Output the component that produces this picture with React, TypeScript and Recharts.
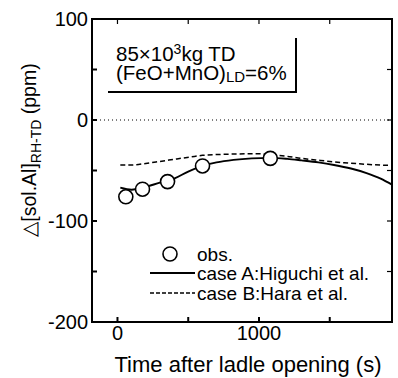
import React from 'react';
import {
  ComposedChart,
  Line,
  Scatter,
  XAxis,
  YAxis,
  ReferenceLine,
  ReferenceArea,
} from 'recharts';

// observed values (time s, delta sol.Al ppm)
const obsTime = [59, 177, 354, 601, 1080];
const obsAl = [-76, -68.5, -61, -45.5, -38];

// case A: Higuchi et al.
const caseATime = [20, 100, 180, 300, 400, 500, 600, 700, 820, 950, 1080, 1200, 1300, 1420, 1530, 1650, 1760, 1860, 1940];
const caseAAl = [-67, -69, -67, -62, -58, -51, -45.5, -42, -39.5, -38, -37.5, -38.5, -40, -42, -44.5, -48, -52.5, -58, -64];

// case B: Hara et al.
const caseBTime = [20, 100, 200, 300, 420, 520, 600, 700, 800, 900, 1000, 1100, 1200, 1300, 1400, 1500, 1600, 1700, 1800, 1940];
const caseBAl = [-44.5, -44.5, -43, -41, -38.5, -36.5, -35, -34.2, -33.8, -33.5, -33.5, -34.5, -36, -38, -39.5, -41, -42.3, -43.3, -44.2, -45];

const xTicks = [0, 500, 1000, 1500];
const xLabels = ['0', '', '1000', ''];
const yTicks = [-200, -150, -100, -50, 0, 50, 100];
const yLabels = ['-200', '', '-100', '', '0', '', '100'];

const obsData = obsTime.map((t, i) => ({ t, v: obsAl[i] }));
const caseAData = caseATime.map((t, i) => ({ t, v: caseAAl[i] }));
const caseBData = caseBTime.map((t, i) => ({ t, v: caseBAl[i] }));

const FONT = '"Liberation Sans", Arial, Helvetica, sans-serif';
const tickStyle = { fill: '#000', fontSize: 20, fontFamily: FONT };
const X_MIN = -180;
const X_MAX = 1940;
const Y_MIN = -200;
const Y_MAX = 100;

// chart box and plot rectangle
const W = 398;
const H = 378;
const MARGIN = { top: 19, right: 6, bottom: 26, left: 32 };
const Y_AXIS_W = 60;
const X_AXIS_H = 30;
const PL = MARGIN.left + Y_AXIS_W;
const PR = W - MARGIN.right;
const PT = MARGIN.top;
const PB = H - MARGIN.bottom - X_AXIS_H;

const xFmt = (v: number) => xLabels[xTicks.indexOf(v)] ?? '';
const yFmt = (v: number) => yLabels[yTicks.indexOf(v)] ?? '';

// inward ticks on the top and right sides of the box
const TopRightTicks = () => {
  const px = (t: number) => PL + ((t - X_MIN) / (X_MAX - X_MIN)) * (PR - PL);
  const py = (v: number) => PT + ((Y_MAX - v) / (Y_MAX - Y_MIN)) * (PB - PT);
  return (
    <svg width={W} height={H} style={{ position: 'absolute', left: 0, top: 0, pointerEvents: 'none' }}>
      {xTicks.map((t) => (
        <line key={`x${t}`} x1={px(t)} x2={px(t)} y1={PT} y2={PT + 5} stroke="#000" strokeWidth={1.2} />
      ))}
      {yTicks.map((v) => (
        <line key={`y${v}`} x1={PR} x2={PR - 5} y1={py(v)} y2={py(v)} stroke="#000" strokeWidth={1.2} />
      ))}
    </svg>
  );
};

// legend drawn as an overlay so it takes no room from the plot
const LegendBox = () => (
  <svg width={245} height={64} style={{ position: 'absolute', left: 150, top: 244 }}>
    <g fontFamily={FONT} fontSize={19} fill="#000">
      <circle cx={20} cy={10} r={7} fill="#fff" stroke="#000" strokeWidth={1.6} />
      <text x={47} y={17}>obs.</text>
      <line x1={0} x2={45} y1={29} y2={29} stroke="#000" strokeWidth={2} />
      <text x={47} y={36}>case A:Higuchi et al.</text>
      <line x1={0} x2={45} y1={49} y2={49} stroke="#000" strokeWidth={1.3} strokeDasharray="4 2" />
      <text x={47} y={56}>case B:Hara et al.</text>
    </g>
  </svg>
);

const YTitle = () => (
  <text
    transform="translate(36,150) rotate(-90)"
    textAnchor="middle"
    fontFamily={FONT}
    fontSize={19.5}
    fill="#000"
  >
    △[sol.Al]
    <tspan fontSize={14} dy={5}>RH-TD</tspan>
    <tspan dy={-5}> (ppm)</tspan>
  </text>
);

export default function App() {
  return (
    <div style={{ position: 'fixed', left: 0, top: 0, width: W, height: H, background: '#fff' }}>
      <ComposedChart width={W} height={H} margin={MARGIN}>
        <XAxis
          type="number"
          dataKey="t"
          domain={[X_MIN, X_MAX]}
          ticks={xTicks}
          tickFormatter={xFmt}
          tick={tickStyle}
          tickSize={-5}
          tickMargin={9}
          height={X_AXIS_H}
          stroke="#000"
          strokeWidth={2}
          label={{ value: 'Time after ladle opening (s)', position: 'insideBottom', offset: -20, dx: 6, fill: '#000', fontSize: 22, fontFamily: FONT }}
        />
        <YAxis
          type="number"
          domain={[Y_MIN, Y_MAX]}
          ticks={yTicks}
          tickFormatter={yFmt}
          tick={tickStyle}
          tickSize={-5}
          tickMargin={9}
          width={Y_AXIS_W}
          stroke="#000"
          strokeWidth={2}
          label={<YTitle />}
        />
        {/* outline of the whole plot area */}
        <ReferenceArea
          x1={X_MIN}
          x2={X_MAX}
          y1={Y_MIN}
          y2={Y_MAX}
          ifOverflow="visible"
          fill="none"
          fillOpacity={0}
          stroke="#000"
          strokeWidth={2}
          strokeOpacity={1}
        />
        <ReferenceLine y={0} stroke="#000" strokeWidth={1.2} strokeDasharray="1 3" />
        <Line
          data={caseBData}
          dataKey="v"
          type="monotone"
          stroke="#000"
          strokeWidth={1.5}
          strokeDasharray="5 3"
          dot={false}
          isAnimationActive={false}
        />
        <Line
          data={caseAData}
          dataKey="v"
          type="monotone"
          stroke="#000"
          strokeWidth={1.9}
          dot={false}
          isAnimationActive={false}
        />
        <Scatter
          data={obsData}
          dataKey="v"
          shape={(p: any) => <circle cx={p.cx} cy={p.cy} r={7} fill="#fff" stroke="#000" strokeWidth={1.6} />}
          isAnimationActive={false}
        />
      </ComposedChart>
      <TopRightTicks />
      <LegendBox />
      <div
        style={{
          position: 'absolute',
          left: 108,
          top: 38,
          width: 189,
          height: 55,
          borderRight: '2.5px solid #000',
          borderBottom: '2.5px solid #000',
          fontFamily: FONT,
          fontSize: 20.5,
          lineHeight: '19px',
          color: '#000',
          paddingLeft: 8,
          paddingTop: 6,
          boxSizing: 'border-box',
          whiteSpace: 'nowrap',
        }}
      >
        <div>85×10<sup style={{ fontSize: 14, verticalAlign: 'top', lineHeight: '10px' }}>3</sup>kg TD</div>
        <div>(FeO+MnO)<sub style={{ fontSize: 15, verticalAlign: 'bottom', lineHeight: '10px' }}>LD</sub>=6%</div>
      </div>
    </div>
  );
}
